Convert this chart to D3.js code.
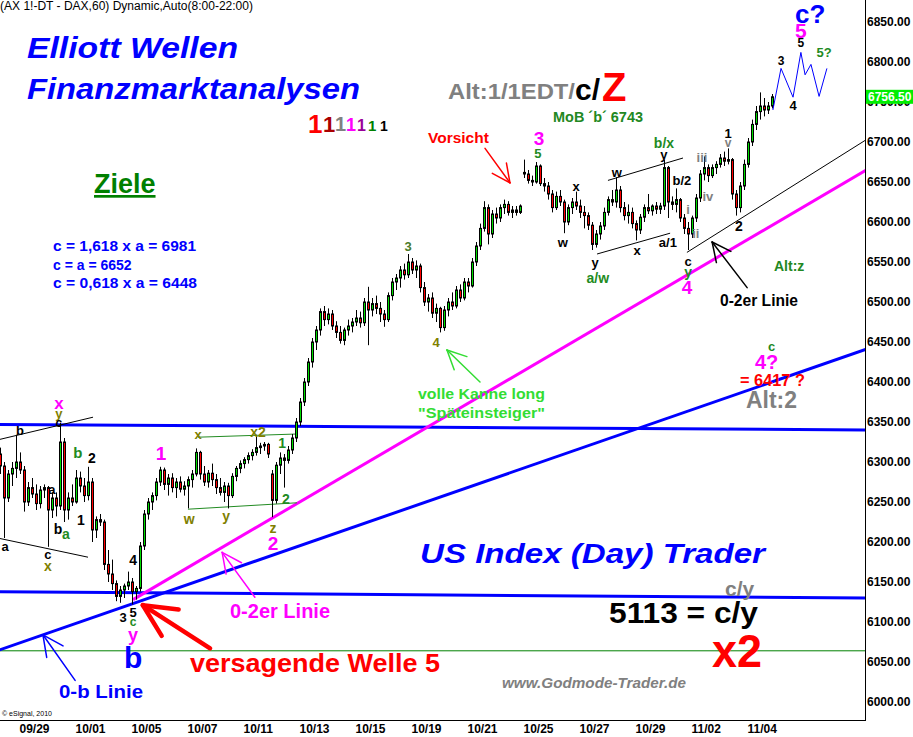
<!DOCTYPE html>
<html>
<head>
<meta charset="utf-8">
<script src="https://cdn.jsdelivr.net/npm/d3@7"></script>
<style>
body { margin: 0; background: #fff; }
svg { display: block; font-family: "Liberation Sans", Arial, sans-serif; }
</style>
</head>
<body>
<svg width="913" height="737"></svg>
<script>
// trading days (2-hour bars, 7 per day)
const dayLabels = ["09/28","09/29","09/30","10/01","10/04","10/05","10/06","10/07","10/08","10/11",
  "10/12","10/13","10/14","10/15","10/18","10/19","10/20","10/21","10/22","10/25",
  "10/26","10/27","10/28","10/29","11/01","11/02","11/03","11/04"];
const tickDays = [1,3,5,7,9,11,13,15,17,19,21,23,25,27];
const priceTicks = [6000,6050,6100,6150,6200,6250,6300,6350,6400,6450,6500,6550,6600,6650,6700,6750,6800,6850];
const lastPrice = 6756.5;

// [open, high, low, close]
const candles = [
  [6300,6315,6290,6305],[6305,6318,6295,6310],[6310,6318,6285,6295],[6295,6300,6205,6255],[6255,6290,6250,6285],[6285,6300,6270,6292],[6292,6334,6280,6300],
  [6300,6312,6285,6290],[6290,6295,6238,6250],[6250,6275,6245,6268],[6268,6280,6255,6260],[6260,6272,6240,6248],[6248,6270,6242,6265],[6265,6272,6255,6268],
  [6268,6270,6194,6240],[6240,6262,6230,6255],[6255,6262,6232,6245],[6245,6349,6240,6325],[6325,6330,6225,6240],[6240,6262,6228,6255],[6255,6272,6245,6250],
  [6250,6290,6248,6280],[6280,6288,6262,6270],[6270,6280,6250,6258],[6258,6294,6252,6275],[6275,6280,6200,6215],[6215,6232,6205,6228],[6228,6235,6220,6225],
  [6225,6228,6165,6172],[6172,6190,6150,6160],[6160,6178,6140,6148],[6148,6152,6126,6132],[6132,6145,6124,6140],[6140,6148,6130,6145],[6145,6163,6140,6150],
  [6150,6155,6122,6138],[6138,6145,6128,6142],[6142,6200,6138,6195],[6195,6240,6190,6235],[6235,6255,6228,6250],[6250,6262,6240,6258],[6258,6280,6252,6275],
  [6275,6294,6270,6290],[6290,6293,6265,6272],[6272,6285,6258,6280],[6280,6286,6262,6268],[6268,6280,6255,6275],[6275,6282,6262,6266],[6266,6276,6258,6270],
  [6270,6282,6242,6278],[6278,6290,6268,6285],[6285,6317,6282,6312],[6312,6314,6278,6285],[6285,6295,6270,6275],[6275,6290,6268,6286],[6286,6298,6270,6278],
  [6278,6285,6260,6268],[6268,6280,6258,6262],[6262,6275,6250,6270],[6270,6274,6242,6258],[6258,6286,6255,6282],[6282,6295,6276,6292],[6292,6302,6286,6298],
  [6298,6306,6292,6303],[6303,6312,6298,6308],[6308,6316,6302,6312],[6312,6334,6308,6318],[6318,6324,6310,6320],[6320,6325,6314,6322],[6322,6324,6305,6310],
  [6285,6290,6231,6252],[6252,6300,6248,6296],[6296,6312,6285,6305],[6305,6310,6268,6302],[6302,6320,6298,6315],[6315,6335,6310,6330],[6330,6355,6325,6350],
  [6350,6380,6345,6375],[6375,6405,6370,6400],[6400,6430,6395,6425],[6425,6455,6418,6450],[6450,6470,6440,6465],[6465,6492,6458,6488],[6488,6495,6470,6478],
  [6478,6492,6472,6485],[6485,6490,6465,6470],[6470,6476,6455,6462],[6462,6470,6448,6452],[6452,6468,6446,6465],[6465,6478,6458,6470],[6470,6480,6462,6475],
  [6475,6490,6470,6480],[6480,6488,6468,6474],[6474,6505,6470,6500],[6500,6519,6446,6490],[6490,6505,6482,6498],[6498,6508,6485,6492],[6492,6500,6475,6485],
  [6485,6490,6469,6478],[6478,6512,6475,6508],[6508,6530,6502,6525],[6525,6535,6515,6530],[6530,6545,6518,6540],[6540,6548,6528,6534],[6534,6560,6530,6550],
  [6550,6555,6535,6540],[6540,6552,6530,6545],[6545,6548,6512,6518],[6518,6525,6495,6500],[6500,6510,6488,6505],[6505,6512,6480,6486],[6486,6498,6475,6492],
  [6492,6494,6462,6468],[6468,6495,6464,6490],[6490,6505,6482,6500],[6500,6512,6490,6495],[6495,6520,6492,6515],[6515,6522,6500,6505],[6505,6530,6502,6525],
  [6525,6530,6512,6520],[6520,6555,6518,6550],[6550,6575,6545,6570],[6570,6598,6565,6592],[6592,6626,6588,6618],[6618,6622,6572,6585],[6585,6615,6580,6610],
  [6610,6618,6598,6605],[6605,6622,6600,6618],[6618,6628,6610,6622],[6622,6626,6608,6612],[6612,6620,6605,6615],[6615,6620,6608,6612],[6612,6622,6610,6620],
  [6662,6678,6655,6660],[6660,6665,6648,6652],[6652,6658,6645,6650],[6650,6675,6648,6670],[6670,6672,6645,6648],[6648,6655,6638,6645],[6645,6650,6628,6635],
  [6635,6640,6612,6618],[6618,6638,6615,6632],[6632,6640,6620,6625],[6625,6628,6586,6600],[6600,6622,6596,6618],[6618,6630,6610,6625],[6625,6638,6615,6620],
  [6620,6628,6605,6612],[6612,6620,6592,6608],[6608,6612,6590,6596],[6596,6600,6565,6572],[6572,6590,6568,6585],[6585,6600,6578,6595],[6595,6618,6590,6612],
  [6612,6632,6608,6628],[6628,6640,6620,6625],[6625,6656,6618,6640],[6640,6645,6612,6618],[6618,6625,6602,6608],[6608,6622,6598,6612],[6612,6618,6592,6598],
  [6598,6602,6577,6590],[6590,6610,6585,6606],[6606,6622,6600,6618],[6618,6635,6610,6614],[6614,6622,6608,6620],[6620,6625,6610,6616],[6616,6624,6610,6620],
  [6620,6678,6615,6668],[6668,6670,6605,6625],[6625,6632,6615,6622],[6622,6642,6612,6628],[6628,6630,6600,6605],[6605,6610,6585,6592],[6592,6600,6565,6585],
  [6585,6608,6580,6605],[6605,6635,6600,6630],[6630,6665,6625,6660],[6660,6682,6652,6668],[6668,6672,6650,6658],[6658,6672,6655,6668],[6668,6676,6660,6672],
  [6672,6685,6668,6680],[6680,6688,6670,6676],[6676,6692,6672,6678],[6678,6680,6628,6635],[6635,6640,6608,6618],[6618,6650,6612,6645],[6645,6678,6640,6672],
  [6672,6705,6668,6700],[6700,6728,6695,6722],[6722,6745,6715,6738],[6738,6762,6728,6745],[6745,6755,6732,6740],[6740,6750,6735,6745],[6745,6760,6742,6756.5]
];
const barsPerDay = 7;

// projected wave path (day, price)
const projection = [[27.96,6740],[28.25,6792],[28.68,6756],[28.96,6812],[29.11,6784],[29.32,6797],[29.61,6757],[29.89,6792]];

// [day1, price1, day2, price2, colour, width]
const trendLines = [
  [0,6347,31.3,6340,"#0000ff",3],
  [0,6138,31.3,6130,"#0000ff",3],
  [0,6064,31.3,6064,"#008000",1],
  [0,6061,31.3,6441,"#0000ff",3],
  [5.11,6128,31.3,6665,"#ff00ff",3],
  [0.2,6327,3.68,6356,"#000",1],
  [0,6207,3.5,6181,"#000",1],
  [7.43,6331,10.96,6335,"#228b22",1],
  [7.07,6241,10.96,6249,"#228b22",1],
  [22.07,6652,24.75,6680,"#000",1],
  [21.68,6560,24.29,6586,"#000",1],
  [24.89,6562,31.3,6703,"#000",1]
];

// [tail day, tail price, tip day, tip price, colour, width, head length]
const arrows = [
  [17.68,6692,18.57,6649,"#ff0000",1.5,20],
  [17.5,6400,16.32,6440,"#33dd33",1.5,21],
  [9.46,6131,8.29,6187,"#ff00ff",1.5,22],
  [3.04,6027,1.89,6084,"#0000ff",1.5,23],
  [7.86,6067,5.46,6121,"#ff0000",4.5,36],
  [27.04,6518,25.79,6575,"#000",1.5,21]
];

// wave counts [text, day, price, colour, size]
const waveLabels = [
  ["x",2.46,6374,"#ff00ff",17],["y",2.46,6361,"#808000",13],["c",2.46,6349,"#000",12],
  ["b",1.07,6340,"#000",13],["b",3.14,6312,"#228b22",15],["2",3.64,6305,"#000",14],
  ["a",2.21,6266,"#000",13],["1",3.25,6227,"#000",14],["b",2.43,6216,"#000",14],
  ["a",2.71,6210,"#228b22",14],["a",0.54,6194,"#000",13],["c",2.07,6184,"#000",13],
  ["x",2.07,6170,"#808000",14],["4",5.11,6177,"#000",14],["3",4.75,6106,"#000",13],
  ["5",5.11,6112,"#000",13],["c",5.11,6100,"#228b22",12],["y",5.11,6084,"#ff00ff",18],
  ["b",5.11,6056,"#0000ff",30],
  ["1",6.11,6311,"#ff00ff",19],["x",7.43,6335,"#808000",13],["x2",9.57,6337,"#808000",14],
  ["w",7.11,6229,"#808000",14],["y",8.43,6232,"#808000",14],["1",10.43,6324,"#228b22",14],
  ["2",10.57,6254,"#228b22",14],["z",10.11,6217,"#808000",14],["2",10.11,6199,"#ff00ff",19],
  ["3",14.93,6569,"#4a7a2a",13],["4",15.93,6450,"#808000",13],
  ["3",19.61,6705,"#ff00ff",19],["5",19.57,6686,"#228b22",13],
  ["x",20.93,6645,"#000",13],["w",20.46,6575,"#000",13],["w",22.39,6662,"#000",13],
  ["x",23.11,6565,"#000",13],["y",21.61,6549,"#000",13],["a/w",21.71,6530,"#228b22",14],
  ["a/1",24.21,6575,"#000",13],["b/x",24.07,6699,"#228b22",14],["y",24.07,6685,"#000",13],
  ["b/2",24.71,6652,"#000",13],["iii",25.43,6681,"#808080",13],["iv",25.64,6632,"#808080",13],
  ["i",24.93,6616,"#808080",13],["ii",25.21,6586,"#808080",13],["1",26.36,6711,"#000",13],
  ["v",26.36,6699,"#808080",12],["2",26.75,6595,"#000",14],["c",24.93,6551,"#000",13],
  ["y",24.93,6537,"#228b22",14],["4",24.89,6519,"#ff00ff",19],
  ["3",28.25,6802,"#000",12],["4",28.68,6746,"#000",13],["5",28.96,6824,"#000",12],
  ["5?",29.79,6812,"#228b22",13],["5",28.96,6840,"#ff00ff",21],["c?",29.29,6861,"#0000ff",26]
];

// free text [text, x, baseline, size, colour, style, textLength]
const notes = [
  ["(AX 1!-DT - DAX,60) Dynamic,Auto(8:00-22:00)",0,10,12,"#000","n",253],
  ["Elliott Wellen",27,58,29,"#0000ff","bi",211],
  ["Finanzmarktanalysen",27,99,29,"#0000ff","bi",333],
  ["Alt:1/1EDT/",448,99,22,"#808080","b",127],
  ["c/",575,100,30,"#000","b",0],
  ["Z",602,101,40,"#ff0000","b",0],
  ["MoB ´b´ 6743",553,122,14,"#228822","b",90],
  ["c = 1,618 x a = 6981",53,251,14,"#0000ff","b",143],
  ["c = a = 6652",53,270,14,"#0000ff","b",0],
  ["c = 0,618 x a = 6448",53,288,14,"#0000ff","b",144],
  ["Vorsicht",428,143,15.5,"#ff0000","b",0],
  ["volle Kanne long",418,399,15.5,"#33dd33","b",127],
  ["\"Späteinsteiger\"",418,418,15.5,"#33dd33","b",127],
  ["0-2er Linie",720,306,16,"#000","b",78],
  ["Alt:z",774,271,14,"#228822","b",0],
  ["c",768,351,13,"#228822","b",0],
  ["4?",755,369,20,"#ff00ff","b",0],
  ["= 6417 ?",740,386,16,"#ff0000","b",65],
  ["Alt:2",746,408,24,"#808080","b",51],
  ["US Index (Day) Trader",420,563,27,"#0000ff","bi",345],
  ["c/y",725,596,21,"#808080","b",0],
  ["5113 = c/y",609,623,29,"#000","b",149],
  ["x2",712,667,47,"#ff0000","b",50],
  ["www.Godmode-Trader.de",502,688,14,"#808080","bi",184],
  ["0-2er Linie",230,618,20,"#ff00ff","b",0],
  ["versagende Welle 5",190,672,26,"#ff0000","b",250],
  ["0-b Linie",59,698,18,"#0000ff","b",84],
  ["© eSignal, 2010",2,716,7,"#000","n",0],
  ["1",308,133,26,"#ff0000","b",0],
  ["1",323,132,22,"#aa0000","b",0],
  ["1",335,131,20,"#808080","b",0],
  ["1",346,131,18,"#ff00ff","b",0],
  ["1",357,131,16,"#990099","b",0],
  ["1",368,131,15,"#008000","b",0],
  ["1",380,131,14,"#000","b",0]
];

const svg = d3.select("svg");
const width = +svg.attr("width");
const plotRight = 865, plotBottom = 720;

const x = d3.scaleLinear().domain([0, 28]).range([-10, 774]);
const y = d3.scaleLinear().domain([6000, 6850]).range([702, 22]);

const barT = i => Math.floor(i / barsPerDay) + (i % barsPerDay + 0.5) / barsPerDay;

svg.append("defs").append("clipPath").attr("id", "plot")
  .append("rect").attr("x", 0).attr("y", 0).attr("width", plotRight).attr("height", plotBottom);

const plot = svg.append("g").attr("clip-path", "url(#plot)");

// trend lines
plot.append("g").selectAll("line")
  .data(trendLines).enter().append("line")
  .attr("x1", d => x(d[0])).attr("y1", d => y(d[1]))
  .attr("x2", d => x(d[2])).attr("y2", d => y(d[3]))
  .attr("stroke", d => d[4]).attr("stroke-width", d => d[5]);

// candles
const candle = plot.append("g").selectAll("g")
  .data(candles).enter().append("g");

candle.append("line")
  .attr("x1", (d, i) => Math.round(x(barT(i))) + 0.5)
  .attr("x2", (d, i) => Math.round(x(barT(i))) + 0.5)
  .attr("y1", d => y(d[1])).attr("y2", d => y(d[2]))
  .attr("stroke", "#000").attr("stroke-width", 1);

candle.append("rect")
  .attr("x", (d, i) => Math.round(x(barT(i))) - 0.5)
  .attr("width", 2)
  .attr("y", d => y(Math.max(d[0], d[3])))
  .attr("height", d => Math.max(1, Math.abs(y(d[0]) - y(d[3]))))
  .attr("fill", d => d[3] >= d[0] ? "#00dd00" : "#ff0000")
  .attr("stroke", "#000").attr("stroke-width", 1);

// projected path
plot.append("path")
  .datum(projection)
  .attr("d", d3.line().x(d => x(d[0])).y(d => y(d[1])))
  .attr("fill", "none").attr("stroke", "#0000ff").attr("stroke-width", 1);

// arrows
const arrow = plot.append("g").selectAll("g").data(arrows).enter().append("g")
  .attr("stroke", d => d[4]).attr("stroke-width", d => d[5]).attr("stroke-linecap", "round");

arrow.append("line")
  .attr("x1", d => x(d[0])).attr("y1", d => y(d[1]))
  .attr("x2", d => x(d[2])).attr("y2", d => y(d[3]));

[-0.45, 0.45].forEach(spread => {
  arrow.append("line")
    .attr("x1", d => x(d[2])).attr("y1", d => y(d[3]))
    .attr("x2", d => {
      const a = Math.atan2(y(d[1]) - y(d[3]), x(d[0]) - x(d[2])) + spread;
      return x(d[2]) + d[6] * Math.cos(a);
    })
    .attr("y2", d => {
      const a = Math.atan2(y(d[1]) - y(d[3]), x(d[0]) - x(d[2])) + spread;
      return y(d[3]) + d[6] * Math.sin(a);
    });
});

// wave labels
svg.append("g").selectAll("text")
  .data(waveLabels).enter().append("text")
  .attr("x", d => x(d[1])).attr("y", d => y(d[2]))
  .attr("dy", "0.36em")
  .attr("text-anchor", "middle")
  .attr("font-weight", "bold")
  .attr("font-size", d => d[4])
  .attr("fill", d => d[3])
  .text(d => d[0]);

// notes
const note = svg.append("g").selectAll("text")
  .data(notes).enter().append("text")
  .attr("x", d => d[1]).attr("y", d => d[2])
  .attr("font-size", d => d[3])
  .attr("fill", d => d[4])
  .attr("font-weight", d => d[5] === "n" ? "normal" : "bold")
  .attr("font-style", d => d[5] === "bi" ? "italic" : "normal")
  .text(d => d[0]);
note.filter(d => d[6] > 0)
  .attr("textLength", d => d[6])
  .attr("lengthAdjust", "spacingAndGlyphs");

// "Ziele" underlined
svg.append("text").attr("x", 94).attr("y", 193)
  .attr("font-size", 27).attr("font-weight", "bold").attr("fill", "#008000")
  .attr("text-decoration", "underline").text("Ziele");

// frame
svg.append("line").attr("x1", plotRight + 0.5).attr("x2", plotRight + 0.5)
  .attr("y1", 0).attr("y2", plotBottom + 1).attr("stroke", "#000");
svg.append("line").attr("x1", 0).attr("x2", plotRight + 1)
  .attr("y1", plotBottom + 0.5).attr("y2", plotBottom + 0.5).attr("stroke", "#000");

// axes
const yAxis = d3.axisRight(y).tickValues(priceTicks).tickSize(0).tickPadding(2)
  .tickFormat(d3.format(".2f"));
svg.append("g").attr("transform", `translate(${plotRight},0)`).call(yAxis)
  .attr("font-family", null).attr("font-size", 12).attr("font-weight", "bold")
  .call(g => g.select(".domain").remove())
  .selectAll("text").attr("fill", "#000");

const xAxis = d3.axisBottom(x).tickValues(tickDays).tickSize(0).tickPadding(4)
  .tickFormat(d => dayLabels[d]);
svg.append("g").attr("transform", `translate(0,${plotBottom})`).call(xAxis)
  .attr("font-family", null).attr("font-size", 12).attr("font-weight", "bold")
  .attr("text-anchor", "start")
  .call(g => g.select(".domain").remove())
  .selectAll("text").attr("fill", "#000").attr("dx", 1);

// last price marker
const lp = svg.append("g").attr("transform", `translate(${plotRight + 1},${y(lastPrice)})`);
lp.append("rect").attr("x", 0).attr("y", -7).attr("width", width - plotRight).attr("height", 14)
  .attr("fill", "#00ee00");
lp.append("text").attr("x", 2).attr("dy", "0.36em")
  .attr("font-size", 12).attr("font-weight", "bold").attr("fill", "#fff")
  .text(d3.format(".2f")(lastPrice));
</script>
</body>
</html>
